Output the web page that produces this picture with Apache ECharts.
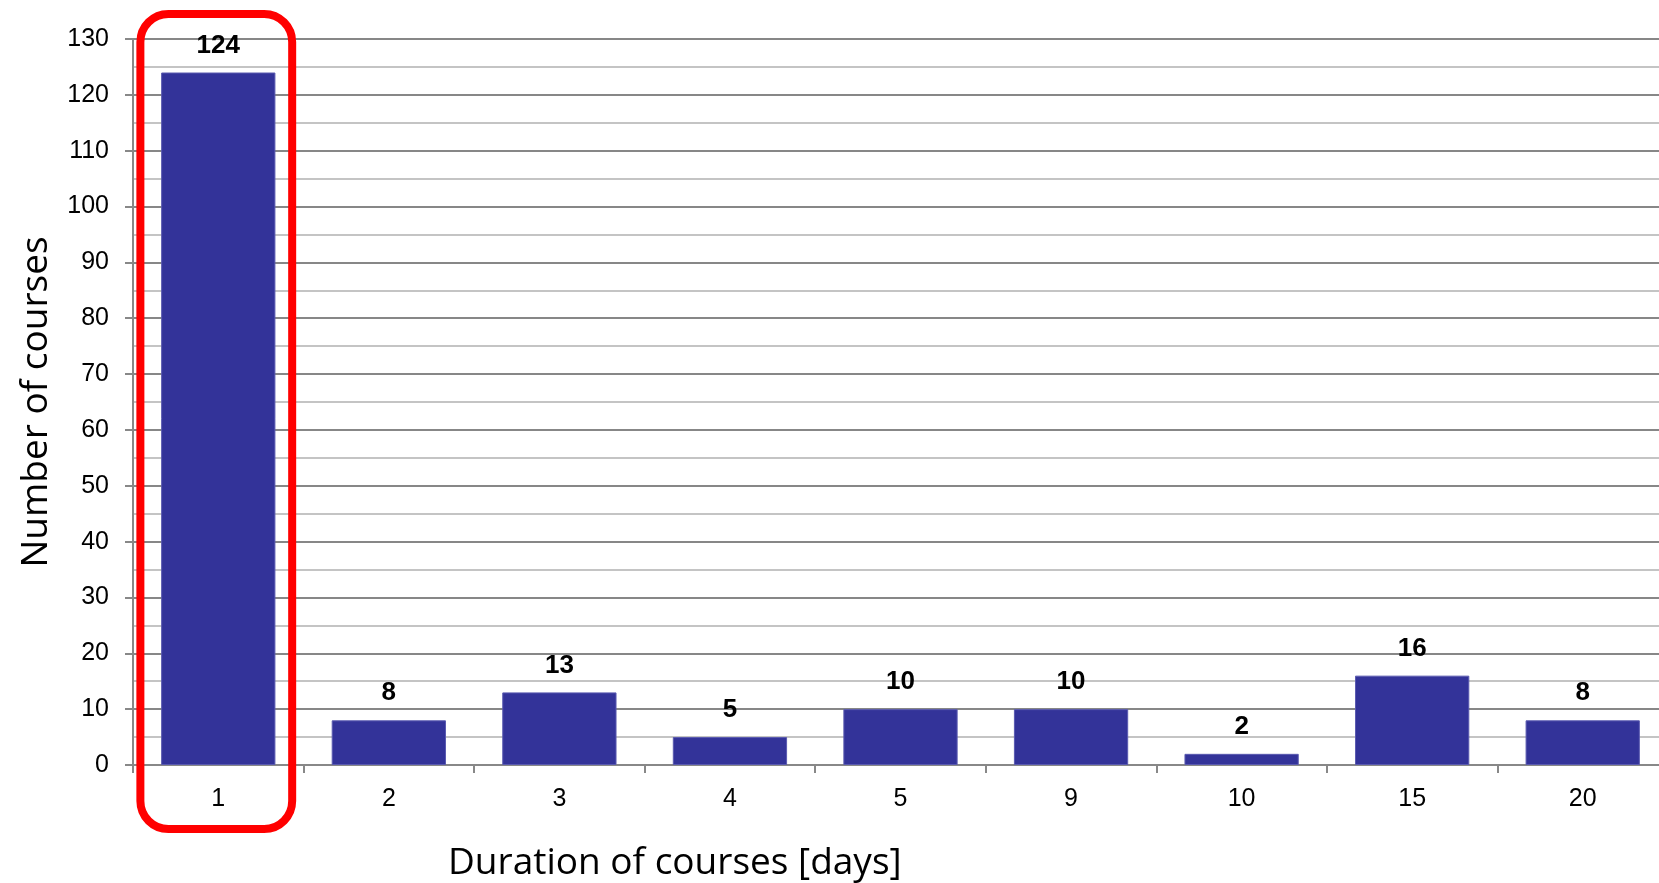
<!DOCTYPE html>
<html>
<head>
<meta charset="utf-8">
<script src="https://cdn.jsdelivr.net/npm/echarts@6/dist/echarts.min.js"></script>
<style>
  html, body { margin: 0; padding: 0; background: #ffffff; }
  #chart { width: 1659px; height: 883px; }
</style>
</head>
<body>
<div id="chart"></div>
<script>
// ---- data ----
const categories = ['1', '2', '3', '4', '5', '9', '10', '15', '20'];
const courseCounts = [124, 8, 13, 5, 10, 10, 2, 16, 8];
const yTicks = { min: 0, max: 130, interval: 10 };
const xTitle = 'Duration of courses [days]';
const yTitle = 'Number of courses';
const highlightCategory = '1';

const chart = echarts.init(document.getElementById('chart'), null, { renderer: 'canvas' });

const option = {
  backgroundColor: '#ffffff',
  animation: false,
  grid: { left: 133, top: 39, width: 1535, height: 726, outerBoundsMode: 'none' },
  title: [
    {
      text: xTitle,
      left: 443, top: 840,
      textStyle: { fontFamily: 'Open Sans', fontWeight: 'normal', fontSize: 37, color: '#000' }
    }
  ],
  xAxis: {
    type: 'category',
    data: categories,
    boundaryGap: true,
    axisLine: { show: true, lineStyle: { color: '#888888', width: 2 } },
    axisTick: { show: true, alignWithLabel: false, length: 8, lineStyle: { color: '#888888', width: 2 } },
    axisLabel: { fontFamily: 'Liberation Sans', fontSize: 25, color: '#000', margin: 22 },
    splitLine: { show: false }
  },
  yAxis: {
    type: 'value',
    min: yTicks.min, max: yTicks.max, interval: yTicks.interval,
    name: yTitle,
    nameLocation: 'middle',
    nameGap: 78,
    nameRotate: 90,
    nameTextStyle: { fontFamily: 'Open Sans', fontSize: 37, color: '#000' },
    axisLine: { show: true, lineStyle: { color: '#888888', width: 2 } },
    axisTick: { show: true, length: 8, lineStyle: { color: '#888888', width: 2 } },
    axisLabel: { fontFamily: 'Liberation Sans', fontSize: 25, color: '#000', margin: 24 },
    splitLine: { show: true, lineStyle: { color: '#878787', width: 2 } },
    minorTick: { show: false, splitNumber: 2 },
    minorSplitLine: { show: true, lineStyle: { color: '#c4c4c4', width: 2 } }
  },
  series: [
    {
      type: 'bar',
      data: courseCounts,
      barCategoryGap: '33%',
      itemStyle: { color: '#333399', borderColor: '#5a5ab0', borderWidth: 1 },
      label: {
        show: true,
        position: 'top',
        distance: 14,
        fontFamily: 'Liberation Sans',
        fontWeight: 'bold',
        fontSize: 26,
        color: '#000'
      },
      z: 3
    }
  ]
};

chart.setOption(option);

// Highlight annotation around the chosen category, placed via the axes
const cIdx = categories.indexOf(highlightCategory);
const cx = chart.convertToPixel({ xAxisIndex: 0 }, cIdx);
const yTop = chart.convertToPixel({ yAxisIndex: 0 }, yTicks.max);
const yZero = chart.convertToPixel({ yAxisIndex: 0 }, yTicks.min);
const catW = chart.convertToPixel({ xAxisIndex: 0 }, 1) - chart.convertToPixel({ xAxisIndex: 0 }, 0);
const halfW = catW * 0.445;
chart.setOption({
  graphic: [
    {
      type: 'rect',
      z: 10,
      shape: {
        x: cx - halfW - 2,
        y: yTop - 25,
        width: halfW * 2,
        height: (yZero + 64) - (yTop - 25),
        r: 28
      },
      style: { fill: 'none', stroke: '#ff0000', lineWidth: 8 }
    }
  ]
});
</script>
</body>
</html>
